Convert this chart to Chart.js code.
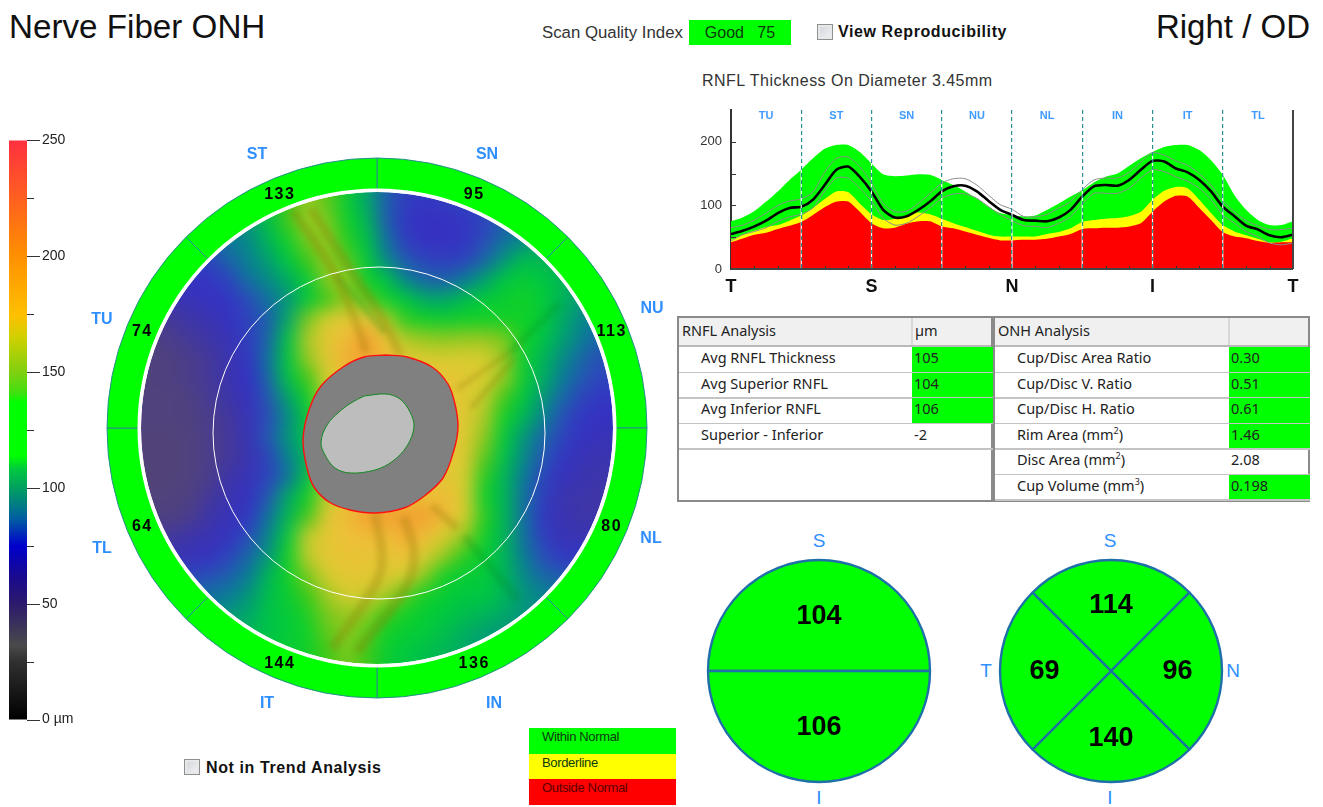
<!DOCTYPE html>
<html><head><meta charset="utf-8">
<script src="https://cdn.jsdelivr.net/npm/chart.js@4"></script>
<style>
html,body{margin:0;padding:0;background:#fff;}
body{position:relative;width:1323px;height:807px;overflow:hidden;font-family:"Liberation Sans",sans-serif;color:#111;}
.a{position:absolute;white-space:nowrap;}
canvas{display:block;}
.box{position:absolute;}
.sec{position:absolute;color:#2f8fff;font:bold 16px "Liberation Sans",sans-serif;transform:translate(-50%,-50%);}
.cb{position:absolute;width:14px;height:14px;border:1px solid #8e8f8f;background:linear-gradient(135deg,#cfd3d8,#f3f4f6);box-shadow:inset 0 0 0 2px #e8e8e8;}
.ck{position:absolute;font:bold 16px "Liberation Sans",sans-serif;letter-spacing:.6px;color:#111;white-space:nowrap;}
.tb{position:absolute;font:14.5px "Noto Sans",sans-serif;color:#222;}
sup{font-size:9px;line-height:0;}
</style></head>
<body>
<script>
/* ---------- values ---------- */
const sectorNames = ['SN','NU','NL','IN','IT','TL','TU','ST'];
const sectorValues = [95,113,80,136,144,64,74,133];
const halfValues = [104,106];
const quadNames = ['S','N','I','T'];
const quadValues = [114,96,140,69];
const curveSectors = ['TU','ST','SN','NU','NL','IN','IT','TL'];
const curveAxisLabels = ['T','S','N','I','T'];

const redTop = [42,48,54,57,63,68,74,85,97,106,106,90,72,64,65,71,75,75,67,64,59,54,49,45,45,46,46,47.5,51,55,63,64,65,65,67,72,90,106,115,114,96,77,58,51,48.5,44,41,42,42];
const yellowTop = [46,54,60,66,69,76,84,96,110,122,121,103,86,77,79,85,89,86,79,72,66,60,54,51,51,51,51,55,58,64,74,77,79,80,83,90,109,123,129,127,109,88,69,59,53,47.5,42,43,48.5];
const greenTop = [75,81,91,106,122,140,156,174,189,195,195,184,166,149,146,147,149,148,140,132,122,111,98,88,85,82.5,84,93,103,114,124,136,145,150,162,174,184,192,195,195,187,171,148,116,93,77,69,69,75];
const measured = [55,60,67,76,88,96,98,109,132,156,161,145,122,93,81,83,93,106,122,130,131,122,107,93,85,77,76,75,81,93,114,130,132,131,140,156,170,169,158,152,140,122,98,83,68,62,53,50,54];
const upperBand = [65,69,77,88,100,107,110,121,152,174,176,161,135,103,90,91,103,119,135,142,142,132,116,101,94,82.5,82,86,96,106,125,140,143,143,152,168,183,179,170,163,150,132,107,90,76,68,62,62,64];
const lowerBand = [44,54,59,65,75,82,86,96,122,143,143,127,107,80,69,72,83,96,111,118,118,111,98,85,76,68,67,65,72,82,102,119,119,119,127,143,156,153,145,138,127,109,85,72,59,51,41,38,41];

const colorbarTicks = [0,25,50,75,100,125,150,175,200,225,250];

const thicknessGrid = [
[90,90,90,90,90,95,110,135,150,140,120,100,80,70,68,70,72,75,80,80,80,80,80,80],
[80,80,80,85,90,95,110,135,152,145,125,105,80,68,65,65,68,72,80,85,90,90,90,90],
[75,75,75,80,88,92,105,125,145,150,130,110,85,70,65,65,68,75,85,92,98,100,100,100],
[70,70,70,72,82,90,98,112,135,150,140,115,92,78,72,70,72,82,95,108,105,100,95,95],
[65,65,65,68,72,85,92,102,118,148,150,125,110,90,82,80,88,98,112,118,112,105,95,92],
[58,60,62,65,68,75,85,95,115,135,150,140,125,112,100,100,108,115,120,125,115,105,95,88],
[52,55,58,60,65,72,80,100,145,165,170,175,155,130,125,120,125,125,125,125,115,100,92,85],
[50,52,55,58,62,70,82,110,155,172,180,190,175,155,150,148,150,150,145,125,110,98,88,80],
[48,50,52,55,60,68,85,112,150,170,185,190,180,170,165,165,165,165,150,120,105,92,82,75],
[48,50,52,55,60,66,82,110,135,165,175,180,180,180,180,175,170,165,150,120,102,88,78,72],
[48,48,50,54,58,64,78,98,125,160,175,180,180,180,180,175,168,160,135,112,95,82,72,68],
[48,48,50,52,56,62,75,92,115,150,170,180,180,180,180,175,170,155,125,105,90,75,68,65],
[46,46,48,52,55,62,78,95,110,145,170,180,180,180,180,175,168,148,115,95,82,72,65,62],
[46,46,48,52,55,60,72,90,105,145,170,180,180,180,180,175,168,140,110,92,78,68,62,60],
[46,46,48,52,58,62,72,85,110,150,175,180,180,180,180,170,165,130,105,88,72,64,60,58],
[46,48,50,55,60,65,78,100,125,160,175,180,180,180,175,180,165,125,105,85,70,60,58,58],
[50,50,52,58,62,68,85,105,135,170,180,190,190,190,190,180,165,130,105,85,68,60,58,58],
[55,55,58,60,65,75,90,115,160,172,178,180,180,185,180,165,150,125,105,85,70,62,60,60],
[60,60,62,65,72,82,95,125,160,172,175,175,172,178,165,150,130,118,105,88,75,68,68,68],
[70,70,72,75,80,88,105,125,145,165,172,172,168,165,148,125,118,115,105,92,82,78,78,78],
[80,80,82,85,88,95,108,120,135,152,165,162,155,140,125,118,112,112,105,95,90,88,88,88],
[90,90,90,90,95,100,110,115,128,145,150,148,135,125,118,112,108,105,100,95,92,90,90,90],
[95,95,95,95,100,105,110,115,125,140,148,140,125,118,115,108,102,98,95,92,90,90,90,90],
[100,100,100,100,105,108,112,118,125,135,145,135,120,112,108,105,100,95,92,90,90,90,90,90]
];

/* outlines in scan units, origin at the scan centre */
const discX = [9,30,55,71,78,81,77,66,46,27,-2,-27,-48,-63,-70,-74,-68,-56,-34,-13];
const discY = [73,71,61,44,24,1,-22,-50,-69,-80,-85,-82,-74,-59,-40,-12,18,42,61,71];
const cupX = [-13,9,23,33,37,30,16,-2,-27,-42,-52,-56,-50,-38,-26];
const cupY = [32,34,29,16,1,-18,-33,-42,-45,-40,-27,-14,3,16,25];
const vesselA = [[-84,217],[-45,159],[-20,103],[-11,76]];
const vesselB = [[-66,219],[-27,159],[5,110],[23,73]];
const vesselC = [[-2,-85],[5,-134],[-6,-164],[-45,-221]];
const vesselD = [[27,-89],[37,-127],[26,-164],[-20,-224]];
const vesselE = [[55,-78],[80,-100]];
const vesselF = [[80,39],[133,76]];
const vesselG = [[94,20],[137,69]];
const vesselH = [[133,76],[183,125]];
const vesselI = [[87,-108],[141,-172]];
const vesselJ = [[-40,152],[8,95]];

/* table and legend content */
const rnflRows = ['Avg RNFL Thickness','Avg Superior RNFL','Avg Inferior RNFL','Superior - Inferior'];
const rnflValues = ['105','104','106','-2'];
const rnflNormal = [1,1,1,0];
const onhRows = ['Cup/Disc Area Ratio','Cup/Disc V. Ratio','Cup/Disc H. Ratio','Rim Area (mm<sup>2</sup>)','Disc Area (mm<sup>2</sup>)','Cup Volume (mm<sup>3</sup>)'];
const onhValues = ['0.30','0.51','0.61','1.46','2.08','0.198'];
const onhNormal = [1,1,1,1,0,1];
const legendNames = ['Within Normal','Borderline','Outside Normal'];

/* ---------- colour ramps ---------- */
const barStops = [[0,'#000000'],[25,'#303030'],[32,'#4a4a4a'],[50,'#2c1a6c'],[62,'#180a90'],[75,'#0000cc'],[87,'#0060a0'],[100,'#00a060'],[108,'#00c840'],[114,'#00ff00'],[137,'#00ff00'],[141,'#40e010'],[150,'#80d010'],[165,'#d0d000'],[175,'#ffc000'],[200,'#ff9000'],[225,'#ff6020'],[250,'#ff3040']];
const mapStops = [[40,'#55486f'],[50,'#4f4080'],[58,'#3d35a8'],[66,'#3530c4'],[76,'#2a50b8'],[88,'#0a7a98'],[100,'#00a868'],[112,'#00c840'],[125,'#10d028'],[135,'#40c818'],[150,'#98c820'],[165,'#d8cc30'],[178,'#eec038'],[190,'#f2a030'],[250,'#ff5020']];
function hex(c){return [1,3,5].map(i=>parseInt(c.substr(i,2),16));}
function ramp(stops,v){
  if(v<=stops[0][0]) return stops[0][1];
  for(let i=1;i<stops.length;i++){
    if(v<=stops[i][0]){
      const t=(v-stops[i-1][0])/(stops[i][0]-stops[i-1][0]);
      const a=hex(stops[i-1][1]),b=hex(stops[i][1]);
      return 'rgb('+a.map((x,k)=>Math.round(x+(b[k]-x)*t)).join(',')+')';
    }
  }
  return stops[stops.length-1][1];
}

/* ---------- page helpers ---------- */
Chart.defaults.font.family='"Liberation Sans",sans-serif';
Chart.defaults.animation=false;
Chart.defaults.responsive=false;
Chart.defaults.plugins.legend.display=false;
Chart.defaults.plugins.tooltip.enabled=false;

function el(tag,cls,css,html,parent){
  const d=document.createElement(tag);
  if(cls)d.className=cls;
  if(css)d.style.cssText=css;
  if(html!==undefined)d.innerHTML=html;
  (parent||document.body).appendChild(d);
  return d;
}
function canvasAt(x,y,w,h,parent){
  const c=document.createElement('canvas');
  c.width=w;c.height=h;
  c.style.cssText='position:absolute;left:'+x+'px;top:'+y+'px;width:'+w+'px;height:'+h+'px;';
  (parent||document.body).appendChild(c);
  return c;
}

/* ---------- header text ---------- */
el('div','a','left:9px;top:8px;font-size:33.2px;line-height:38px;color:#111;','Nerve Fiber ONH');
el('div','a','right:13px;top:8px;font-size:33px;line-height:38px;color:#111;','Right / OD');
el('div','a','left:542px;top:24px;font-size:16.8px;line-height:18px;color:#333;','Scan Quality Index');
el('div','a','left:689px;top:20px;width:102px;height:25px;background:#00ff00;font-size:16px;line-height:25px;text-align:center;color:#0a3a0a;','Good&nbsp;&nbsp;&nbsp;75');
el('div','cb','left:817px;top:24px;');
el('div','ck','left:838px;top:23px;','View Reproducibility');
el('div','a','left:702px;top:72px;font-size:16px;letter-spacing:.48px;line-height:18px;color:#333;','RNFL Thickness On Diameter 3.45mm');
el('div','cb','left:184px;top:759px;');
el('div','ck','left:206px;top:759px;','Not in Trend Analysis');

/* ---------- colour bar ---------- */
new Chart(canvasAt(9,125,84,610),{
  type:'bar',
  data:{labels:['scale'],datasets:[{
    data:[[0,250]],barPercentage:1,categoryPercentage:1,
    backgroundColor(ctx){
      const ch=ctx.chart; if(!ch.chartArea) return '#888';
      const s=ch.scales.y,g=ch.ctx.createLinearGradient(0,s.getPixelForValue(0),0,s.getPixelForValue(250));
      barStops.forEach(p=>g.addColorStop(p[0]/250,p[1]));
      return g;
    }}]},
  options:{
    layout:{padding:0,autoPadding:false},
    scales:{
      x:{display:false},
      y:{position:'right',min:0,max:250,afterFit(s){s.width=66;},
        border:{display:false},
        grid:{display:false},
        afterBuildTicks(s){s.ticks=colorbarTicks.map(v=>({value:v}));},
        ticks:{padding:7,autoSkip:false,color:'#222',font:{size:14},
          callback(v){return v===0?'0 µm':(v%50===0?String(v):'');}}
      }
    }
  },
  plugins:[{id:'barTicks',afterDatasetsDraw(ch){
    const s=ch.scales.y,c=ch.ctx,r=ch.chartArea.right;
    c.save();c.strokeStyle='#333';c.lineWidth=1;
    colorbarTicks.forEach(v=>{
      const y=Math.round(s.getPixelForValue(v))+.5;
      c.beginPath();c.moveTo(r,y);c.lineTo(r+(v%50===0?13:7),y);c.stroke();
    });
    c.restore();
  }}]
});

/* ---------- heat map ---------- */
const mapClip=el('div','box','left:141px;top:192px;width:472px;height:472px;border-radius:50%;overflow:hidden;');
function scanOptions(minv,maxv){
  return {
    layout:{padding:0,autoPadding:false},
    scales:{x:{display:false,type:'linear',min:minv,max:maxv},y:{display:false,type:'linear',min:minv,max:maxv}}
  };
}
const cellData=[],cellColors=[];
for(let j=-1;j<=24;j++){
  for(let i=-1;i<=24;i++){
    const row=thicknessGrid[Math.min(23,Math.max(0,j))];
    const v=row[Math.min(23,Math.max(0,i))];
    cellData.push({x:i+.5,y:23.5-j});
    cellColors.push(ramp(mapStops,v));
  }
}
const heatCanvas=canvasAt(-20,-20,512,512,mapClip);
heatCanvas.style.filter='blur(9px)';
const cellRadius=15;
new Chart(heatCanvas,{
  type:'scatter',
  data:{datasets:[{data:cellData,pointStyle:'rect',pointRadius:cellRadius,pointBorderWidth:0,backgroundColor:cellColors,pointBackgroundColor:cellColors}]},
  options:scanOptions(-1.017,25.017)
});
/* vessels */
function pts(a){return a.map(p=>({x:p[0],y:p[1]}));}
function vessel(a,col,w){return {data:pts(a),showLine:true,pointRadius:0,borderColor:col,borderWidth:w,tension:.4,fill:false};}
const vesselCanvas=canvasAt(0,0,472,472,mapClip);
vesselCanvas.style.filter='blur(2.5px)';
const olive='rgba(140,110,0,.24)',dkgreen='rgba(0,120,20,.18)';
new Chart(vesselCanvas,{
  type:'scatter',
  data:{datasets:[
    vessel(vesselA,olive,9),vessel(vesselB,olive,9),vessel(vesselC,olive,10),vessel(vesselD,olive,10),
    vessel(vesselE,olive,8),vessel(vesselF,olive,5),vessel(vesselG,olive,5),
    vessel(vesselH,dkgreen,7),vessel(vesselI,dkgreen,8),vessel(vesselJ,dkgreen,6)
  ]},
  options:scanOptions(-236,236)
});
/* disc, cup, scan circle */
function loop(xs,ys){const a=xs.map((x,i)=>({x:x,y:ys[i]}));a.push(a[0]);return a;}
new Chart(canvasAt(141,192,472,472),{
  type:'scatter',
  data:{datasets:[
    {data:[{x:2,y:-5}],pointRadius:166,pointBorderWidth:1,pointBorderColor:'#ffffff',pointBackgroundColor:'rgba(0,0,0,0)',clip:false},
    {data:loop(cupX,cupY),showLine:true,pointRadius:0,borderColor:'#128a20',borderWidth:1,backgroundColor:'#bdbdbd',fill:'shape',tension:.35},
    {data:loop(discX,discY),showLine:true,pointRadius:0,borderColor:'#ff1010',borderWidth:1.4,backgroundColor:'#808080',fill:'shape',tension:.35}
  ]},
  options:scanOptions(-236,236)
});

/* value labels on pie and ring slices */
const sliceText={id:'sliceText',afterDatasetsDraw(ch){
  const ds=ch.data.datasets[0],c=ch.ctx;
  c.save();c.textAlign='center';c.textBaseline='middle';c.fillStyle='#000';c.font=ds.textFont;
  if(ds.textSpacing)c.letterSpacing=ds.textSpacing;
  ch.getDatasetMeta(0).data.forEach((arc,i)=>{
    const p=arc.getProps(['x','y','startAngle','endAngle','innerRadius','outerRadius'],true);
    const m=(p.startAngle+p.endAngle)/2,r=p.innerRadius+(p.outerRadius-p.innerRadius)*ds.textFrac;
    c.fillText(ds.textValues[i],p.x+Math.cos(m)*r,p.y+Math.sin(m)*r+1);
  });
  c.restore();
}};

/* ---------- outer sector ring ---------- */
new Chart(canvasAt(105,156,544,544),{
  type:'doughnut',
  data:{labels:sectorNames,datasets:[{
    data:sectorValues.map(()=>1),textValues:sectorValues,textFrac:.5,
    textFont:'bold 16px "Liberation Sans",sans-serif',textSpacing:'1.5px',
    backgroundColor:'#00ff00',borderColor:'#2a8f8f',borderWidth:1
  }]},
  options:{layout:{padding:0,autoPadding:false},radius:270,cutout:'88.15%',rotation:0},
  plugins:[sliceText]
});
/* white gap between ring and scan */
new Chart(canvasAt(105,156,544,544),{
  type:'doughnut',
  data:{labels:['gap'],datasets:[{data:[1],backgroundColor:'#ffffff',borderWidth:0}]},
  options:{layout:{padding:0,autoPadding:false},radius:239.5,cutout:'98.54%'}
});
const sectorSpots=[[487,154],[652,308],[651,538],[494,703],[267,703],[102,548],[102,319],[257,154]];
sectorNames.forEach((n,i)=>el('div','sec','left:'+sectorSpots[i][0]+'px;top:'+sectorSpots[i][1]+'px;',n));

/* ---------- thickness profile ---------- */
const xIdx=measured.map((_,i)=>i);
function toPts(a){return a.map((v,i)=>({x:xIdx[i],y:v}));}
new Chart(canvasAt(690,100,620,200),{
  type:'line',
  data:{datasets:[
    {data:toPts(measured),borderColor:'#000',borderWidth:2.6,pointRadius:0,tension:.25,fill:false},
    {data:toPts(upperBand),borderColor:'#8c8c8c',borderWidth:1,pointRadius:0,tension:.25,fill:false},
    {data:toPts(lowerBand),borderColor:'#8c8c8c',borderWidth:1,pointRadius:0,tension:.25,fill:false},
    {data:toPts(redTop),borderWidth:0,pointRadius:0,tension:.25,backgroundColor:'#ff0000',fill:'origin'},
    {data:toPts(yellowTop),borderWidth:0,pointRadius:0,tension:.25,backgroundColor:'#ffff00',fill:'origin'},
    {data:toPts(greenTop),borderWidth:0,pointRadius:0,tension:.25,backgroundColor:'#00ff00',fill:'origin'}
  ]},
  options:{
    layout:{padding:{top:10,right:17,left:0,bottom:0},autoPadding:false},
    scales:{
      x:{type:'linear',min:0,max:48,afterFit(s){s.height=31;},
        grid:{z:1,drawTicks:false,
          color(c){return (c.tick.value===0||c.tick.value===48)?'rgba(0,0,0,0)':'#2a9090';},
          lineWidth:1.2},
        border:{display:false,dash:[4,3]},
        ticks:{stepSize:6,autoSkip:false,maxRotation:0,padding:7,color:'#111',font:{size:18,weight:'bold'},
          callback(v){return v%12===0?curveAxisLabels[v/12]:'';}}
      },
      y:{min:0,max:250,afterFit(s){s.width=41;},
        border:{color:'#333',width:2},
        grid:{display:false},
        afterBuildTicks(s){s.ticks=[0,50,100,150,200].map(v=>({value:v}));},
        ticks:{padding:1,autoSkip:false,color:'#333',font:{size:13},
          callback(v){return v%100===0?String(v):'';}}
      }
    }
  },
  plugins:[{id:'profileDecor',
    afterDatasetsDraw(ch){
      const xs=ch.scales.x,c=ch.ctx,a=ch.chartArea;
      c.save();
      c.strokeStyle='#ffffff';c.lineWidth=1.2;
      for(let k=6;k<48;k+=6){const x=xs.getPixelForValue(k);c.beginPath();c.moveTo(x,a.top);c.lineTo(x,a.bottom);c.stroke();}
      c.restore();
    },
    afterDraw(ch){
      const xs=ch.scales.x,ys=ch.scales.y,c=ch.ctx,a=ch.chartArea;
      c.save();
      c.strokeStyle='#333';c.lineWidth=1;
      [0,50,100,150,200].forEach(v=>{const y=Math.round(ys.getPixelForValue(v))+.5;c.beginPath();c.moveTo(a.left,y);c.lineTo(a.left+5,y);c.stroke();});
      for(let k=2;k<48;k+=2){if(k%6===0)continue;const x=Math.round(xs.getPixelForValue(k))+.5;c.beginPath();c.moveTo(x,a.bottom);c.lineTo(x,a.bottom-3);c.stroke();}
      c.lineWidth=2;c.setLineDash([]);c.strokeStyle='#444';
      c.beginPath();c.moveTo(a.left,a.bottom);c.lineTo(a.right,a.bottom);c.stroke();
      c.beginPath();c.moveTo(a.right,a.top);c.lineTo(a.right,a.bottom);c.stroke();
      c.fillStyle='#3f9bff';c.font='bold 11px "Liberation Sans",sans-serif';c.textAlign='center';c.textBaseline='middle';
      curveSectors.forEach((n,i)=>c.fillText(n,xs.getPixelForValue(3+6*i),16));
      c.restore();
    }
  }]
});

/* ---------- tables ---------- */
function buildTable(x,labelW,valW,title,unit,rows,vals,norm,totalH){
  const t=el('div','tb','left:'+x+'px;top:316px;width:'+(labelW+valW)+'px;height:'+totalH+'px;border:2px solid #8a8a8a;box-sizing:border-box;');
  el('div','','position:absolute;left:0;top:0;right:0;height:27px;background:#f0f0f0;border-bottom:2px solid #b9b9b9;',undefined,t);
  el('div','a','left:'+(labelW-4)+'px;top:0;width:2px;height:27px;background:#d8d8d8;','',t);
  el('div','a','left:3px;top:1px;line-height:22px;',title,t);
  if(unit)el('div','a','left:'+labelW+'px;top:1px;line-height:22px;',unit,t);
  rows.forEach((r,i)=>{
    const top=29+i*25.55;
    if(norm[i])el('div','a','left:'+(labelW-3)+'px;top:'+top+'px;width:'+(valW+1)+'px;height:25.55px;background:#00ff00;','',t);
    el('div','a','left:22px;top:'+(top-2)+'px;line-height:24px;',r,t);
    el('div','a','left:'+(labelW-1)+'px;top:'+(top-2)+'px;line-height:24px;',vals[i],t);
    el('div','a','left:0;width:'+(labelW-3)+'px;top:'+(top+24.5)+'px;height:1.5px;background:#c4c4c4;','',t);
    el('div','a','left:'+(labelW-3)+'px;width:'+(valW+1)+'px;top:'+(top+24.5)+'px;height:1.5px;background:#c4c4c4;','',t);
  });
}
buildTable(677,236,80,'RNFL Analysis','µm',rnflRows,rnflValues,rnflNormal,186);
buildTable(993,237,80,'ONH Analysis','',onhRows,onhValues,onhNormal,186);

/* ---------- sector pies ---------- */
function piePanel(left,names,values,rot,frac){
  new Chart(canvasAt(left,557,228,228),{
    type:'pie',
    data:{labels:names,datasets:[{
      data:values.map(()=>1),textValues:values,textFrac:frac,
      textFont:'bold 27px "Liberation Sans",sans-serif',
      backgroundColor:'#00ff00',borderColor:'#1f6fa8',borderWidth:2.4
    }]},
    options:{layout:{padding:0,autoPadding:false},radius:111,rotation:rot},
    plugins:[sliceText]
  });
}
piePanel(705,['S','I'],halfValues,-90,.5);
piePanel(997,quadNames,quadValues,-45,.6);
const pieMarks=[['S',819,541],['I',819,798],['S',1110,541],['I',1110,798],['T',986,671],['N',1233,671]];
pieMarks.forEach(m=>el('div','sec','left:'+m[1]+'px;top:'+m[2]+'px;font-weight:normal;font-size:19px;',m[0]));

/* ---------- status legend ---------- */
const legendFills=['#00ff00','#ffff00','#ff0000'];
legendNames.forEach((n,i)=>{
  el('div','a','left:529px;top:'+(728+i*25.6)+'px;width:147px;height:25.7px;background:'+legendFills[i]+';font-size:13px;line-height:18px;letter-spacing:-.35px;color:'+(i==2?'#5a0000':'#0c3a0c')+';text-indent:13px;',n);
});
</script>
</body></html>
